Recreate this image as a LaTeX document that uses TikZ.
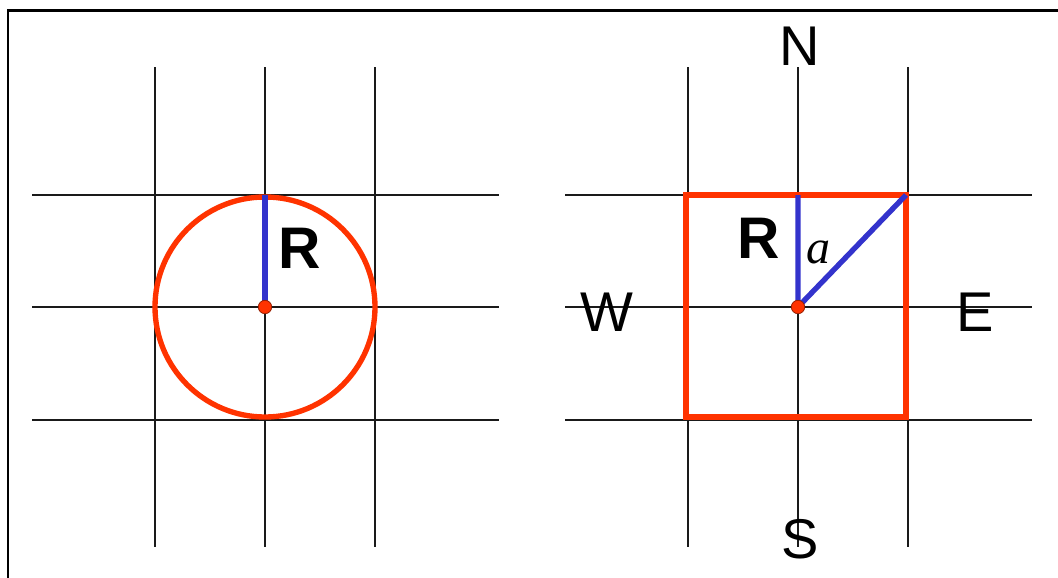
\documentclass[tikz,border=0pt]{standalone}
\usepackage{fontspec}
\setmainfont{Liberation Sans}
\newfontfamily\serifit{Liberation Serif}
\usepackage{tikz}
\usetikzlibrary{positioning}
\definecolor{RingRed}{HTML}{FF3300}
\definecolor{RadBlue}{HTML}{3333CC}
\definecolor{GridInk}{HTML}{1A1A1A}
\begin{document}
\begin{tikzpicture}[x=0.75pt,y=-0.75pt,
  gridline/.style={draw=GridInk,line width=1.1pt},
  shapeline/.style={draw=RingRed,line width=4pt},
  radius line/.style={draw=RadBlue,line width=4pt},
  centre/.style={circle,fill=RingRed,draw=RingRed!60!black,line width=0.6pt,
    inner sep=0pt,minimum size=10pt},
  pole/.style={font=\fontsize{42}{42}\selectfont,inner sep=0pt},
  rlabel/.style={font=\fontsize{44}{44}\selectfont\bfseries,inner sep=0pt}]
\useasboundingbox (0,0) rectangle (1058,578);
% frame (only top and left edges show)
\draw[line width=2pt] (8,578) -- (8,10.5) -- (1058,10.5);
% grids
\foreach \ox in {265,798}{
  \foreach \dx in {-110,0,110}
    \draw[gridline] (\ox+\dx,67) -- (\ox+\dx,547);
  \foreach \y in {195,307,420}
    \draw[gridline] (\ox-233,\y) -- (\ox+234,\y);
}
% left: circle
\coordinate (c1) at (265,307);
\coordinate (t1) at (265,195);
\draw[shapeline] (c1) circle (110);
\draw[radius line] (c1) -- (t1);
\node[centre] (d1) at (c1) {};
\node[rlabel] (r1) at (300,248) {R};
% right: square
\coordinate (c2) at (798,307);
\coordinate (t2) at (798,195);
\coordinate (k2) at (906,195);
\draw[shapeline] (686,195) rectangle (906,417);
\draw[radius line] (t2) -- (c2) -- (k2);
\node[centre] (d2) at (c2) {};
\node[rlabel] (r2) at (759,238) {R};
\node[font=\fontsize{36}{36}\selectfont\serifit\itshape,inner sep=0pt] (a2) at (818,252) {a};
\node[pole] (n) at (800,46) {N};
\node[pole] (s) at (800,539) {S};
\node[pole] (w) at (607,312) {W};
\node[pole] (e) at (975,312) {E};
\end{tikzpicture}
\end{document}
